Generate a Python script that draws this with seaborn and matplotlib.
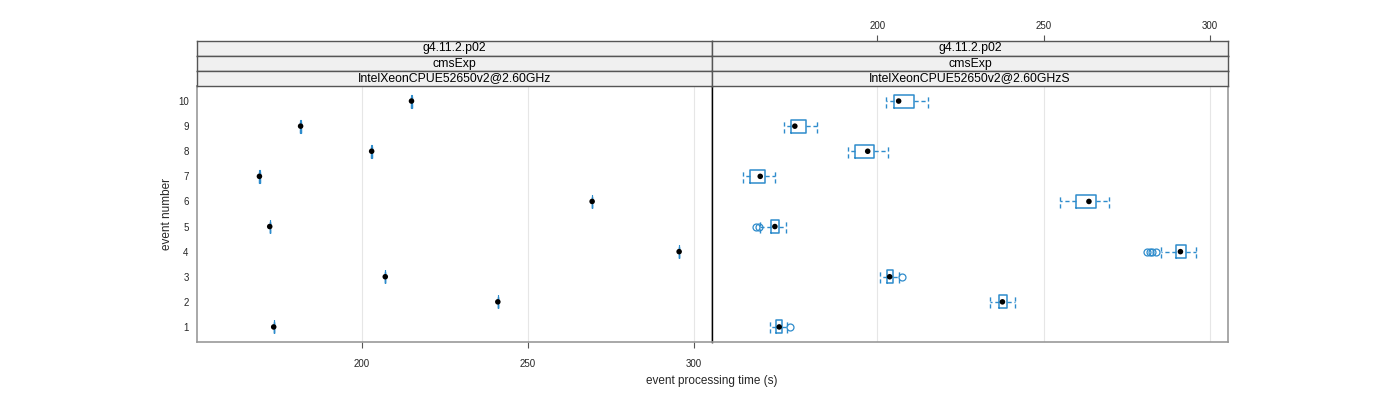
import numpy as np
import matplotlib
matplotlib.use("Agg")
import matplotlib.pyplot as plt
import seaborn as sns

# dados
events = [1, 2, 3, 4, 5, 6, 7, 8, 9, 10]
strip_labels = ["g4.11.2.p02", "cmsExp"]
panel_names = ["IntelXeonCPUE52650v2@2.60GHz", "IntelXeonCPUE52650v2@2.60GHzS"]

# painel esquerdo (caixas quase sem largura)
left_med = [173.4, 240.9, 207.0, 295.5, 172.2, 269.3, 169.1, 202.9, 181.5, 214.9]
left_q1 = [173.35, 240.85, 206.95, 295.45, 172.15, 269.25, 169.05, 202.85, 181.45, 214.85]
left_q3 = [173.45, 240.95, 207.05, 295.55, 172.25, 269.35, 169.15, 202.95, 181.55, 214.95]

# painel direito
right_lo = [167.7, 233.9, 200.8, 285.2, 164.6, 254.9, 159.5, 191.1, 171.9, 202.7]
right_q1 = [169.4, 236.6, 202.8, 289.7, 167.9, 259.7, 161.7, 193.2, 173.9, 204.9]
right_med = [170.5, 237.6, 203.7, 291.1, 169.2, 263.6, 164.8, 197.1, 175.2, 206.4]
right_q3 = [171.2, 238.9, 204.6, 292.9, 170.3, 265.7, 166.2, 198.9, 178.6, 210.9]
right_hi = [172.7, 241.4, 206.4, 295.9, 172.4, 269.7, 169.2, 203.2, 181.8, 215.3]
right_out = [[173.7], [], [207.4], [281.2, 281.9, 282.6, 283.9], [163.5, 164.3], [], [], [], [], []]

x_ticks = [200, 250, 300]
XLIM = (150.3, 305.4)
YLIM = (0.4, 10.6)
BLUE = "#2e8ccc"

sns.set_style("white")
plt.rcParams["font.family"] = ["Liberation Sans", "DejaVu Sans"]

W, H = 1400, 400
fig = plt.figure(figsize=(14, 4), dpi=100)


def px(x0, y0, x1, y1):
    return [x0 / W, 1 - y1 / H, (x1 - x0) / W, (y1 - y0) / H]


def draw_panel(ax, q1, med, q3, lo, hi, out, lw=1.1):
    stats = []
    for i in range(len(events)):
        stats.append(dict(med=med[i], q1=q1[i], q3=q3[i], whislo=lo[i], whishi=hi[i],
                          fliers=out[i]))
    ax.bxp(stats, positions=events, widths=0.52, orientation="horizontal",
           showfliers=True, patch_artist=False, capwidths=0.52,
           boxprops=dict(color=BLUE, lw=lw),
           whiskerprops=dict(color=BLUE, lw=1.0, ls=(0, (3, 2))),
           capprops=dict(color=BLUE, lw=1.0, ls=(0, (3, 2))),
           medianprops=dict(lw=0),
           flierprops=dict(marker="o", mfc="none", mec=BLUE, ms=5, mew=0.9))
    sns.scatterplot(x=med, y=events, ax=ax, color="black", s=16, edgecolor="none", zorder=5)
    for t in x_ticks:
        ax.axvline(t, color="#e6e6e6", lw=0.8, zorder=0)
    ax.set_xlim(*XLIM)
    ax.set_ylim(*YLIM)
    ax.set_xlabel("")
    ax.set_ylabel("")
    for s in ax.spines.values():
        s.set_color("#999999")
        s.set_linewidth(1.2)


# painéis
ax_l = fig.add_axes(px(197, 86, 712, 342))
draw_panel(ax_l, left_q1, left_med, left_q3, left_q1, left_q3, [[] for _ in events], lw=0.8)
ax_r = fig.add_axes(px(712, 86, 1228, 342))
draw_panel(ax_r, right_q1, right_med, right_q3, right_lo, right_hi, right_out)

ax_l.spines["right"].set_color("black")
ax_l.spines["right"].set_linewidth(1.0)
ax_r.spines["left"].set_color("black")
ax_r.spines["left"].set_linewidth(1.0)

ax_l.set_yticks(events)
ax_l.set_yticklabels([str(e) for e in events])
ax_l.tick_params(axis="y", length=0, pad=6, labelsize=7)
ax_l.set_xticks(x_ticks)
ax_l.tick_params(axis="x", bottom=True, length=4, width=0.8, color="#555555", labelsize=7, pad=8)

ax_r.set_yticks([])
ax_r.set_xticks([])

# faixas (strips)
strip_rows = [(41, 56), (56, 71), (71, 86)]
for col, (x0, x1) in enumerate([(197, 712), (712, 1228)]):
    texts = strip_labels + [panel_names[col]]
    for k, (y0, y1) in enumerate(strip_rows):
        sa = fig.add_axes(px(x0, y0, x1, y1))
        sa.set_facecolor("#f0f0f0")
        sa.set_xlim(*XLIM)
        sa.set_ylim(0, 1)
        sa.set_yticks([])
        sa.set_xticks([])
        for s in sa.spines.values():
            s.set_color("#555555")
            s.set_linewidth(1.0)
        sa.text(0.5, 0.5, texts[k], transform=sa.transAxes, ha="center", va="center",
                fontsize=8.8, color="black")
        if col == 1 and k == 0:
            sa.set_xticks(x_ticks)
            sa.xaxis.tick_top()
            sa.tick_params(axis="x", top=True, length=4, width=0.8, color="#555555",
                           labelsize=7, pad=3)

fig.text(712 / W, 1 - 381 / H, "event processing time (s)", ha="center", va="center", fontsize=8.5)
fig.text(167 / W, 1 - 214 / H, "event number", ha="center", va="center", rotation=90, fontsize=8.5)

fig.savefig("out.png", dpi=100)
